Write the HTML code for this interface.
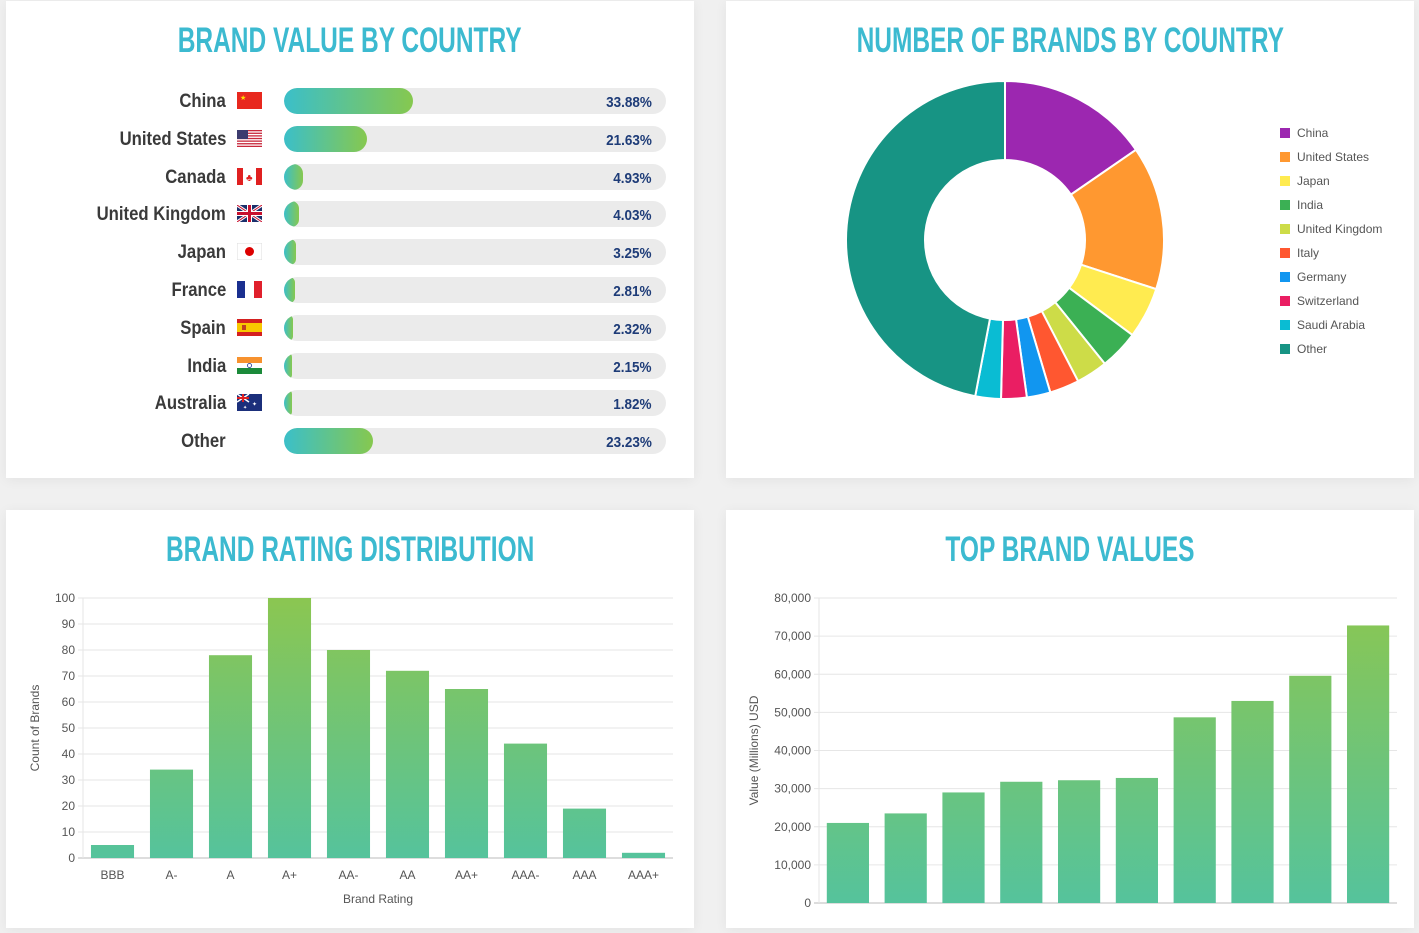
<!DOCTYPE html>
<html><head><meta charset="utf-8"><style>
body{margin:0;width:1419px;height:933px;background:#f0f0f0;font-family:"Liberation Sans",sans-serif;position:relative;overflow:hidden}
.panel{position:absolute;background:#fff;box-shadow:0 2px 12px rgba(0,0,0,0.06)}
.title{position:absolute;left:0;right:0;text-align:center;color:#3cbad0;font-weight:bold;font-size:35px;letter-spacing:0px}
.title span{display:inline-block;transform:scaleX(0.7);transform-origin:center}
.row{position:absolute;left:0;width:688px;height:26px}
.lbl{position:absolute;right:468px;top:3px;font-weight:bold;font-size:19px;color:#3a3a3a;white-space:nowrap;transform:scaleX(0.88);transform-origin:right center}
.flag{position:absolute;left:231px;top:4px;width:25px;height:17px;overflow:hidden}
.track{position:absolute;left:278px;top:0;width:382px;height:26px;border-radius:13px;background:#ebebeb;overflow:hidden}
.fill{position:absolute;left:0;top:0;height:26px;border-radius:13px;background:linear-gradient(90deg,#3bbfc9,#86c84f)}
.pct{position:absolute;right:42px;top:6px;font-weight:bold;font-size:15px;color:#1e3c78;transform:scaleX(0.9);transform-origin:right center}
</style></head><body>
<div class="panel" style="left:6px;top:1px;width:688px;height:477px">
<div class="title" style="top:20px"><span>BRAND VALUE BY COUNTRY</span></div>
<div id="rows"></div>
</div>
<div class="panel" style="left:726px;top:1px;width:688px;height:477px">
<div class="title" style="top:20px"><span>NUMBER OF BRANDS BY COUNTRY</span></div>
<svg id="donut" width="688" height="477" style="position:absolute;left:0;top:0"></svg>
</div>
<div class="panel" style="left:6px;top:510px;width:688px;height:418px">
<div class="title" style="top:20px"><span>BRAND RATING DISTRIBUTION</span></div>
<svg id="rating" width="688" height="418" style="position:absolute;left:0;top:0"></svg>
</div>
<div class="panel" style="left:726px;top:510px;width:688px;height:418px">
<div class="title" style="top:20px"><span>TOP BRAND VALUES</span></div>
<svg id="values" width="688" height="418" style="position:absolute;left:0;top:0"></svg>
</div>
<script>
const countries=["China","United States","Canada","United Kingdom","Japan","France","Spain","India","Australia","Other"];
const shares=[33.88,21.63,4.93,4.03,3.25,2.81,2.32,2.15,1.82,23.23];
const flags={
"China":'<svg width="25" height="17"><rect width="25" height="17" fill="#e8281e"/><text x="3" y="8" font-size="7" fill="#ffde00">★</text></svg>',
"United States":'<svg width="25" height="17"><rect width="25" height="17" fill="#fff"/>'+[0,2,4,6,8,10,12].map(i=>'<rect y="'+(i*1.31)+'" width="25" height="1.31" fill="#c8283c"/>').join('')+'<rect width="11" height="9" fill="#3c3b6e"/></svg>',
"Canada":'<svg width="25" height="17"><rect width="25" height="17" fill="#fff"/><rect width="6" height="17" fill="#e02020"/><rect x="19" width="6" height="17" fill="#e02020"/><text x="9" y="13" font-size="10" fill="#e02020">♣</text></svg>',
"United Kingdom":'<svg width="25" height="17"><rect width="25" height="17" fill="#1b2f6b"/><path d="M0 0L25 17M25 0L0 17" stroke="#fff" stroke-width="3"/><path d="M0 0L25 17M25 0L0 17" stroke="#c8102e" stroke-width="1"/><rect x="10" width="5" height="17" fill="#fff"/><rect y="6" width="25" height="5" fill="#fff"/><rect x="11" width="3" height="17" fill="#c8102e"/><rect y="7" width="25" height="3" fill="#c8102e"/></svg>',
"Japan":'<svg width="25" height="17"><rect width="25" height="17" fill="#fff" stroke="#ddd"/><circle cx="12.5" cy="8.5" r="4.5" fill="#d00"/></svg>',
"France":'<svg width="25" height="17"><rect width="8" height="17" fill="#1a2f8f"/><rect x="8" width="9" height="17" fill="#fff"/><rect x="17" width="8" height="17" fill="#e0202c"/></svg>',
"Spain":'<svg width="25" height="17"><rect width="25" height="17" fill="#d42020"/><rect y="4" width="25" height="9" fill="#f8c800"/><rect x="5" y="6" width="4" height="5" fill="#c04020"/></svg>',
"India":'<svg width="25" height="17"><rect width="25" height="6" fill="#f7922e"/><rect y="6" width="25" height="5" fill="#fff"/><rect y="11" width="25" height="6" fill="#1b8a3a"/><circle cx="12.5" cy="8.5" r="2" fill="none" stroke="#1a2f8f" stroke-width="0.8"/></svg>',
"Australia":'<svg width="25" height="17"><rect width="25" height="17" fill="#1b2f7b"/><path d="M0 0L12 8M12 0L0 8" stroke="#fff" stroke-width="1.5"/><rect x="5" width="2" height="8" fill="#e02020"/><rect y="3" width="12" height="2" fill="#e02020"/><text x="15" y="12" font-size="6" fill="#fff">✦</text><text x="6" y="15" font-size="5" fill="#fff">✦</text></svg>',
"Other":''};
const rowsEl=document.getElementById('rows');
countries.forEach((c,i)=>{
 const r=document.createElement('div');r.className='row';r.style.top=(87+i*37.8)+'px';
 
 
 r.innerHTML='<div class="lbl">'+c+'</div>'+
 (flags[c]?'<div class="flag">'+flags[c]+'</div>':'')+
 '<div class="track"><div class="fill" style="width:'+Math.max(8,shares[i]/100*382)+'px"></div></div>'+
 '<div class="pct">'+shares[i].toFixed(2)+'%</div>';
 rowsEl.appendChild(r);
});
const NS='http://www.w3.org/2000/svg';
function mk(p,t,a){const e=document.createElementNS(NS,t);for(const k in a)e.setAttribute(k,a[k]);p.appendChild(e);return e;}
const dLabels=["China","United States","Japan","India","United Kingdom","Italy","Germany","Switzerland","Saudi Arabia","Other"];
const dCounts=[77,73,26,20,16,15,12,13,13,235];
const dColors=["#9c27b0","#ff9830","#ffeb50","#3bb054","#cddc48","#ff5730","#1196f0","#ea1e63","#0abcd3","#179484"];
const dsvg=document.getElementById('donut');
const cx=279,cy=239,R=159,r0=80;const tot=dCounts.reduce((a,b)=>a+b,0);
let ang=0;
dCounts.forEach((v,i)=>{
 const a0=ang,a1=ang+v/tot*2*Math.PI;ang=a1;
 const p=(a,rr)=>[cx+rr*Math.sin(a),cy-rr*Math.cos(a)];
 const lg=(a1-a0)>Math.PI?1:0;
 const [x0,y0]=p(a0,R),[x1,y1]=p(a1,R),[x2,y2]=p(a1,r0),[x3,y3]=p(a0,r0);
 const s=mk(dsvg,'path',{d:`M${x0} ${y0}A${R} ${R} 0 ${lg} 1 ${x1} ${y1}L${x2} ${y2}A${r0} ${r0} 0 ${lg} 0 ${x3} ${y3}Z`,fill:dColors[i],stroke:'#fff','stroke-width':2});
 
 
 const ly=131+i*24;
 const sq=mk(dsvg,'rect',{x:554,y:ly-4,width:10,height:10,fill:dColors[i]});
 
 
 const t=mk(dsvg,'text',{x:571,y:ly+5,'font-size':12,fill:'#555','font-family':'Liberation Sans'});t.textContent=dLabels[i];
 
 
});
function barChart(id,cats,vals,opt){
 const svg=document.getElementById(id);
 const d=mk(svg,'defs',{});const g=mk(d,'linearGradient',{id:id+'g',gradientUnits:'userSpaceOnUse',x1:0,y1:opt.y0,x2:0,y2:opt.y1});
 mk(g,'stop',{offset:0,'stop-color':'#55c39c'});mk(g,'stop',{offset:1,'stop-color':'#8bc651'});
 const y=v=>opt.y0-(v/opt.max)*(opt.y0-opt.y1);
 const bw=(opt.x1-opt.x0)/cats.length;
 opt.ticks.forEach(tv=>{
  const gl=mk(svg,'line',{x1:opt.x0-5,x2:opt.x1,y1:y(tv),y2:y(tv),stroke:tv===0?'#bbb':'#e6e6e6'});
  
  
  const t=mk(svg,'text',{x:opt.x0-8,y:y(tv)+4,'text-anchor':'end','font-size':12,fill:'#555'});t.textContent=opt.fmt(tv);
  
  
 });
 mk(svg,'line',{x1:opt.x0,x2:opt.x0,y1:opt.y1,y2:opt.y0,stroke:'#e6e6e6'});
 cats.forEach((c,i)=>{
  const cxp=opt.x0+bw*(i+0.5);
  const b=mk(svg,'rect',{x:cxp-bw*0.365,width:bw*0.73,y:y(vals[i]),height:opt.y0-y(vals[i]),fill:`url(#${id}g)`});
  
  
  if(c!==''){const t=mk(svg,'text',{x:cxp,y:opt.y0+21,'text-anchor':'middle','font-size':12,fill:'#555'});t.textContent=c;
  
  }
 });
 const yt=mk(svg,'text',{transform:`translate(${opt.ytx},${(opt.y0+opt.y1)/2}) rotate(-90)`,'text-anchor':'middle','font-size':12,fill:'#555'});yt.textContent=opt.ytitle;
 
 
 if(opt.xtitle){const xt=mk(svg,'text',{x:(opt.x0+opt.x1)/2,y:opt.y0+45,'text-anchor':'middle','font-size':12,fill:'#555'});xt.textContent=opt.xtitle;
 
 }
}
const ratingCats=["BBB","A-","A","A+","AA-","AA","AA+","AAA-","AAA","AAA+"];
const ratingCounts=[5,34,78,100,80,72,65,44,19,2];
const ratingTicks=[0,10,20,30,40,50,60,70,80,90,100];
barChart('rating',ratingCats,ratingCounts,{x0:77,x1:667,y0:348,y1:88,max:100,ticks:ratingTicks,fmt:v=>v,ytitle:'Count of Brands',ytx:33,xtitle:'Brand Rating'});
const valueCats=["","","","","","","","","",""];
const brandValues=[21000,23500,29000,31800,32200,32800,48700,53000,59600,72800];
const valueTicks=[0,10000,20000,30000,40000,50000,60000,70000,80000];
barChart('values',valueCats,brandValues,{x0:93,x1:671,y0:393,y1:88,max:80000,ticks:valueTicks,fmt:v=>v.toLocaleString('en-US'),ytitle:'Value (Millions) USD',ytx:32});
</script>
</body></html>
